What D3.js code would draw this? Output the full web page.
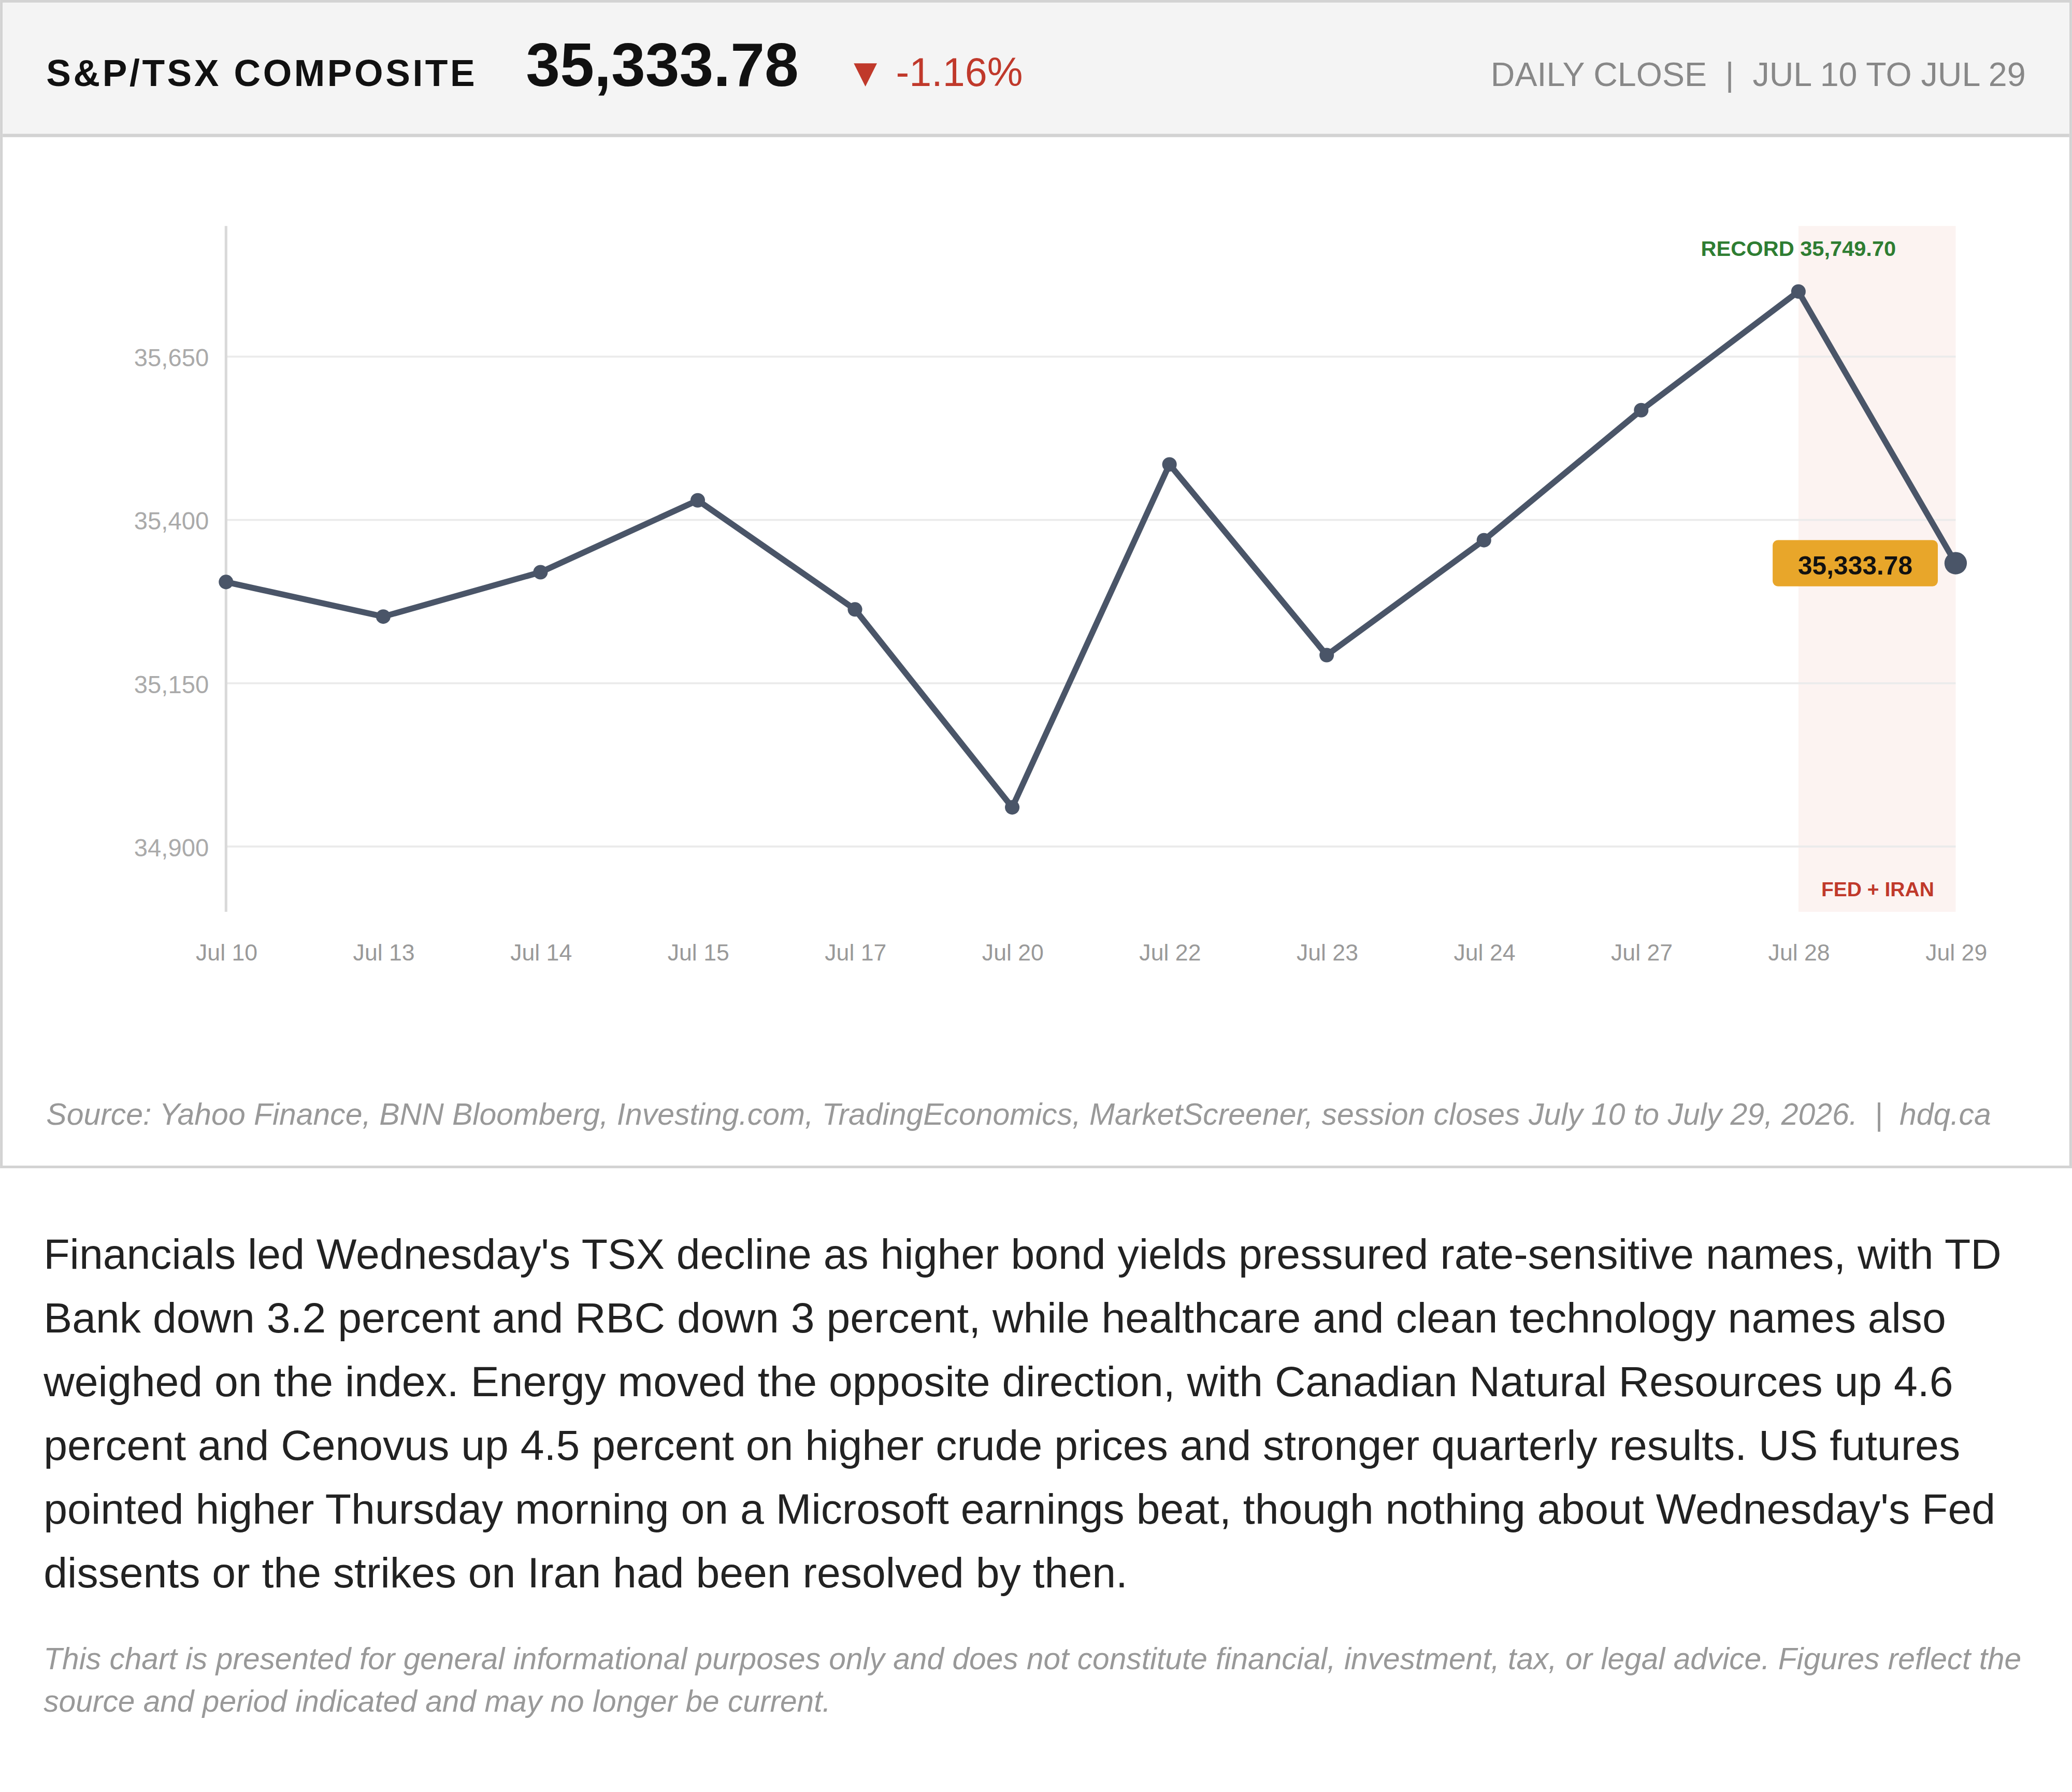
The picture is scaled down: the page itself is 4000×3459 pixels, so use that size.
<!DOCTYPE html>
<html>
<head>
<meta charset="utf-8">
<script src="https://cdn.jsdelivr.net/npm/d3@7"></script>
<style>
html, body { margin: 0; padding: 0; background: #fff; }
svg { display: block; }
text { font-family: "Liberation Sans", Arial, Helvetica, sans-serif; }
</style>
</head>
<body>
<svg id="chart"></svg>
<script>
// daily closes
const dates = ["Jul 10", "Jul 13", "Jul 14", "Jul 15", "Jul 17", "Jul 20",
               "Jul 22", "Jul 23", "Jul 24", "Jul 27", "Jul 28", "Jul 29"];
const closes = [35305, 35252, 35320, 35430, 35263, 34960,
                35485, 35193, 35369, 35568, 35749.70, 35333.78];
const yTicks = [34900, 35150, 35400, 35650];
const yDomain = [34800, 35850];

const indexName = "S&P/TSX COMPOSITE";
const lastClose = "35,333.78";
const dayChange = "-1.16%";
const periodLabel = "DAILY CLOSE  |  JUL 10 TO JUL 29";
const recordLabel = "RECORD 35,749.70";
const eventLabel = "FED + IRAN";
const eventFrom = "Jul 28", eventTo = "Jul 29";

const sourceLine = "Source: Yahoo Finance, BNN Bloomberg, Investing.com, TradingEconomics, MarketScreener, session closes July 10 to July 29, 2026.  |  hdq.ca";
const bodyLines = [
  "Financials led Wednesday's TSX decline as higher bond yields pressured rate-sensitive names, with TD",
  "Bank down 3.2 percent and RBC down 3 percent, while healthcare and clean technology names also",
  "weighed on the index. Energy moved the opposite direction, with Canadian Natural Resources up 4.6",
  "percent and Cenovus up 4.5 percent on higher crude prices and stronger quarterly results. US futures",
  "pointed higher Thursday morning on a Microsoft earnings beat, though nothing about Wednesday's Fed",
  "dissents or the strikes on Iran had been resolved by then."
];
const noteLines = [
  "This chart is presented for general informational purposes only and does not constitute financial, investment, tax, or legal advice. Figures reflect the",
  "source and period indicated and may no longer be current."
];

const W = 1568, H = 1356;
const svg = d3.select("#chart")
  .attr("width", 4000).attr("height", 3459)
  .attr("viewBox", `0 0 ${W} ${H}`);

svg.append("rect").attr("width", W).attr("height", H).attr("fill", "#fff");

// card + header
svg.append("rect")
  .attr("x", 1).attr("y", 1).attr("width", W - 2).attr("height", 882)
  .attr("fill", "#fff").attr("stroke", "#d3d3d3").attr("stroke-width", 2);
svg.append("rect")
  .attr("x", 2).attr("y", 2).attr("width", W - 4).attr("height", 100)
  .attr("fill", "#f4f4f4");
svg.append("line")
  .attr("x1", 2).attr("x2", W - 2).attr("y1", 102.5).attr("y2", 102.5)
  .attr("stroke", "#d3d3d3").attr("stroke-width", 2.5);

svg.append("text").attr("x", 35).attr("y", 65)
  .attr("font-size", 28).attr("font-weight", "bold").attr("letter-spacing", 1.8)
  .attr("fill", "#111").text(indexName);
svg.append("text").attr("x", 398).attr("y", 65)
  .attr("font-size", 46.4).attr("font-weight", "bold")
  .attr("fill", "#111").text(lastClose);
svg.append("text").attr("x", 640).attr("y", 65)
  .attr("font-size", 30).attr("fill", "#c0392b").text("▼");
svg.append("text").attr("x", 678).attr("y", 65)
  .attr("font-size", 30.3).attr("fill", "#c0392b").text(dayChange);
svg.append("text").attr("x", 1533).attr("y", 65)
  .attr("text-anchor", "end").attr("font-size", 25.3)
  .attr("fill", "#888").style("white-space", "pre").text(periodLabel);

// plot
const plotLeft = 171, plotRight = 1480, plotTop = 171, plotBottom = 690;
const x = d3.scalePoint().domain(dates).range([plotLeft, plotRight]);
const y = d3.scaleLinear().domain(yDomain).range([plotBottom, plotTop]);

svg.append("rect")
  .attr("x", x(eventFrom)).attr("y", plotTop)
  .attr("width", x(eventTo) - x(eventFrom)).attr("height", plotBottom - plotTop)
  .attr("fill", "#fcf3f1");

svg.append("g").selectAll("line").data(yTicks).join("line")
  .attr("x1", plotLeft).attr("x2", plotRight)
  .attr("y1", d => y(d)).attr("y2", d => y(d))
  .attr("stroke", "#ebebeb").attr("stroke-width", 1.5);

const yAxis = svg.append("g")
  .attr("transform", `translate(${plotLeft},0)`)
  .call(d3.axisLeft(y).tickValues(yTicks).tickSize(0).tickPadding(13).tickFormat(d3.format(",")));
yAxis.select(".domain").remove();
yAxis.selectAll("text")
  .attr("font-family", null).attr("font-size", 18.5).attr("fill", "#aaa").attr("dy", "0.37em");

const xAxis = svg.append("g")
  .attr("transform", `translate(0,${plotBottom})`)
  .call(d3.axisBottom(x).tickSize(0).tickPadding(24.5));
xAxis.select(".domain").remove();
xAxis.selectAll("text")
  .attr("font-family", null).attr("font-size", 17.5).attr("fill", "#999");

svg.append("line")
  .attr("x1", plotLeft).attr("x2", plotLeft).attr("y1", plotTop).attr("y2", plotBottom)
  .attr("stroke", "#d9d9d9").attr("stroke-width", 2);

const series = dates.map((d, i) => ({ date: d, close: closes[i] }));
const line = d3.line().x(d => x(d.date)).y(d => y(d.close));

svg.append("path").datum(series)
  .attr("d", line).attr("fill", "none")
  .attr("stroke", "#4a5568").attr("stroke-width", 4.5)
  .attr("stroke-linejoin", "round");

svg.append("g").selectAll("circle").data(series).join("circle")
  .attr("cx", d => x(d.date)).attr("cy", d => y(d.close))
  .attr("r", (d, i) => i === series.length - 1 ? 8.5 : 5.5)
  .attr("fill", "#4a5568");

// annotations
const rec = series[d3.maxIndex(series, d => d.close)];
svg.append("text")
  .attr("x", x(rec.date)).attr("y", y(rec.close) - 27)
  .attr("text-anchor", "middle").attr("font-size", 16.3).attr("font-weight", "bold")
  .attr("fill", "#2e7d32").text(recordLabel);

svg.append("text")
  .attr("x", (x(eventFrom) + x(eventTo)) / 2 + 0.5).attr("y", plotBottom - 12)
  .attr("text-anchor", "middle").attr("font-size", 15.3).attr("font-weight", "bold")
  .attr("fill", "#c0392b").text(eventLabel);

const last = series[series.length - 1];
const tag = svg.append("g")
  .attr("transform", `translate(${x(last.date) - 76},${y(last.close)})`);
tag.append("rect")
  .attr("x", -62.5).attr("y", -17.5).attr("width", 125).attr("height", 35)
  .attr("rx", 4).attr("fill", "#e8a62a");
tag.append("text")
  .attr("x", 0).attr("y", 8.5).attr("text-anchor", "middle")
  .attr("font-size", 19.5).attr("font-weight", "bold").attr("fill", "#111")
  .text(lastClose);

// source
svg.append("text").attr("x", 35).attr("y", 851)
  .attr("font-size", 23.1).attr("font-style", "italic").attr("fill", "#999")
  .style("white-space", "pre").text(sourceLine);

// commentary
svg.append("g").selectAll("text").data(bodyLines).join("text")
  .attr("x", 33).attr("y", (d, i) => 960 + i * 48.2)
  .attr("font-size", 32.3).attr("fill", "#222").text(d => d);

svg.append("g").selectAll("text").data(noteLines).join("text")
  .attr("x", 33).attr("y", (d, i) => 1263 + i * 32.2)
  .attr("font-size", 23).attr("font-style", "italic").attr("fill", "#999").text(d => d);
</script>
</body>
</html>
